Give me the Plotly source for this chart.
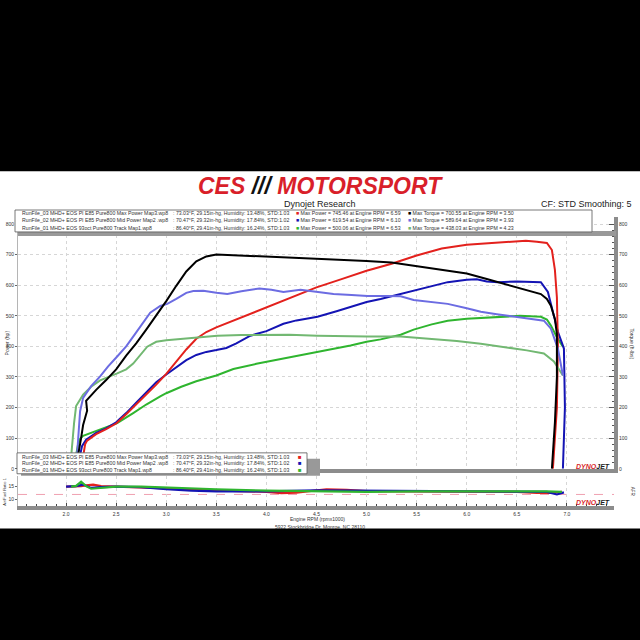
import plotly.graph_objects as go

# ---- run info (legend text) ----
run_names = ["RunFile_03 MHD+ EOS PI E85 Pure800 Max Power Map3.wp8",
             "RunFile_02 MHD+ EOS PI E85 Pure800 Mid Power Map2 .wp8",
             "RunFile_01 MHD+ EOS 93oct Pure800 Track Map1.wp8"]
run_conditions = [": 73.03\u00b0F, 29.15in-hg, Humidity: 13.48%, STD:1.03",
                  ": 70.47\u00b0F, 29.32in-hg, Humidity: 17.84%, STD:1.02",
                  ": 86.40\u00b0F, 29.41in-hg, Humidity: 16.24%, STD:1.03"]
max_power = [745.46, 619.54, 500.06]
max_power_rpm = [6.59, 6.10, 6.53]
max_torque = [700.55, 589.64, 438.03]
max_torque_rpm = [3.50, 3.93, 4.23]

# ---- RunFile_03 ----
rpm_hp_03 = [2.15, 2.18, 2.19, 2.21, 2.24, 2.3, 2.4, 2.5, 2.6, 2.7, 2.8, 2.9, 3.0, 3.1, 3.2, 3.3, 3.4, 3.5,
             3.75, 4.0, 4.25, 4.5, 4.75, 5.0, 5.25, 5.5, 5.75, 6.0, 6.25, 6.4, 6.5, 6.59, 6.7, 6.8, 6.85,
             6.88, 6.9, 6.91, 6.9, 6.88, 6.86]
hp_03 = [0, 55, 80, 92, 100, 113, 130, 148, 178, 210, 242, 275, 310, 350, 390, 425, 447, 462,
         495, 528, 560, 593, 620, 647, 670, 697, 720, 732, 738, 742, 743, 745.5, 742, 738, 715,
         650, 560, 400, 200, 80, 0]
rpm_tq_03 = [2.11, 2.12, 2.15, 2.17, 2.21, 2.2, 2.25, 2.3, 2.4, 2.5, 2.6, 2.7, 2.8, 2.9, 3.0, 3.1, 3.2,
             3.3, 3.4, 3.5, 3.75, 4.0, 4.25, 4.5, 4.75, 5.0, 5.25, 5.5, 5.75, 6.0, 6.2, 6.4, 6.6, 6.74,
             6.8, 6.84, 6.88, 6.9, 6.9, 6.88, 6.85]
tq_03 = [0, 45, 100, 143, 190, 222, 240, 258, 290, 325, 370, 410, 455, 500, 548, 598, 645,
         678, 694, 700.5, 697, 693, 691, 686, 682, 679, 674, 662, 650, 638, 620, 602, 585, 571,
         555, 533, 490, 440, 300, 150, 0]

# ---- RunFile_02 ----
rpm_hp_02 = [2.13, 2.14, 2.16, 2.2, 2.3, 2.4, 2.5, 2.6, 2.7, 2.8, 2.9, 3.0, 3.1, 3.2, 3.3, 3.4, 3.5,
             3.6, 3.7, 3.84, 4.0, 4.17, 4.3, 4.51, 4.7, 4.84, 5.0, 5.14, 5.34, 5.47, 5.6, 5.81, 6.0,
             6.1, 6.2, 6.31, 6.5, 6.74, 6.81, 6.88, 6.91, 6.97, 6.98, 6.96]
hp_02 = [0, 45, 75, 95, 117, 132, 152, 182, 216, 250, 283, 308, 333, 355, 372, 382, 388,
         395, 410, 435, 450, 474, 485, 497, 515, 529, 545, 555, 571, 581, 592, 610, 618,
         619.5, 612, 610, 612, 610, 578, 480, 448, 393, 200, 0]
rpm_tq_02 = [2.1, 2.12, 2.14, 2.17, 2.25, 2.34, 2.42, 2.51, 2.6, 2.67, 2.75, 2.84, 2.94, 3.01, 3.1,
             3.2, 3.27, 3.37, 3.5, 3.61, 3.75, 3.93, 4.05, 4.17, 4.34, 4.5, 4.67, 4.85, 5.01, 5.2,
             5.34, 5.47, 5.65, 5.81, 6.0, 6.14, 6.3, 6.47, 6.6, 6.77, 6.84, 6.91, 6.96]
tq_02 = [0, 80, 188, 232, 270, 302, 335, 367, 400, 432, 470, 510, 532, 539, 555,
         575, 581, 582, 575, 571, 580, 589.6, 585, 578, 585, 578, 571, 568, 565, 565,
         564, 552, 545, 539, 525, 513, 505, 497, 490, 484, 458, 393, 305]

# ---- RunFile_01 ----
rpm_hp_01 = [2.09, 2.1, 2.12, 2.14, 2.17, 2.25, 2.34, 2.51, 2.67, 2.8, 2.94, 3.0, 3.15, 3.3, 3.5, 3.67,
             3.9, 4.17, 4.35, 4.51, 4.7, 4.84, 5.0, 5.14, 5.34, 5.47, 5.65, 5.81, 6.0, 6.14, 6.3,
             6.53, 6.74, 6.8, 6.84, 6.9, 6.96]
hp_01 = [0, 45, 80, 98, 108, 118, 127, 149, 182, 210, 237, 247, 268, 286, 305, 326,
         343, 360, 372, 383, 395, 403, 415, 423, 438, 455, 472, 484, 490, 493, 497,
         500, 497, 488, 468, 430, 399]
rpm_tq_01 = [2.04, 2.06, 2.08, 2.1, 2.13, 2.17, 2.25, 2.34, 2.51, 2.6, 2.67, 2.75, 2.81, 2.9, 3.0,
             3.17, 3.35, 3.51, 3.75, 4.0, 4.23, 4.51, 4.75, 5.01, 5.34, 5.64, 5.9, 6.14, 6.3, 6.47,
             6.6, 6.77, 6.87, 6.96]
tq_01 = [0, 80, 150, 205, 222, 242, 268, 289, 312, 325, 344, 375, 399, 415, 420,
         425, 430, 435, 437, 438, 438, 435, 433, 432, 432, 425, 418, 409, 402, 393,
         387, 377, 351, 305]

# ---- air / fuel ratio ----
rpm_afr_03 = [2.0, 2.1, 2.15, 2.2, 2.27, 2.35, 2.5, 2.75, 3.0, 3.25, 3.5, 3.75, 4.0, 4.15, 4.3, 4.6,
              4.8, 5.0, 5.5, 6.0, 6.5, 6.7, 6.85, 6.95]
afr_03 = [15.0, 15.0, 15.2, 15.5, 15.8, 15.2, 15.0, 14.9, 14.3, 14.0, 13.6, 13.3, 13.0, 12.5, 12.7, 14.0,
          13.8, 13.3, 13.2, 13.0, 13.0, 12.6, 12.6, 13.0]
rpm_afr_02 = [2.0, 2.1, 2.17, 2.25, 2.35, 2.5, 2.75, 3.0, 3.25, 3.5, 3.75, 4.0, 4.5, 5.0, 5.5, 6.0,
              6.5, 6.8, 6.9, 6.97]
afr_02 = [15.0, 15.2, 15.8, 14.5, 14.8, 15.0, 14.8, 14.0, 13.5, 13.2, 13.2, 13.2, 13.6, 13.5, 13.3, 13.1,
          13.1, 13.0, 12.0, 12.8]
rpm_afr_01 = [2.05, 2.1, 2.15, 2.2, 2.25, 2.35, 2.5, 2.75, 3.0, 3.5, 4.0, 4.5, 5.0, 5.5, 6.0, 6.5,
              6.8, 6.95]
afr_01 = [15.0, 15.3, 16.9, 15.2, 14.2, 14.6, 15.0, 15.0, 14.6, 14.0, 13.5, 13.2, 13.0, 13.2, 13.3, 13.4,
          13.2, 13.0]
afr_target = 12.0

power_ticks = [0, 100, 200, 300, 400, 500, 600, 700, 800]
afr_ticks = [10, 15]
rpm_ticks = [2.0, 2.5, 3.0, 3.5, 4.0, 4.5, 5.0, 5.5, 6.0, 6.5, 7.0]

RED = "#e3211d"
BLACK = "#000000"
BLUE = "#1414b4"
LBLUE = "#6c6ce2"
GREEN = "#2fb52f"
LGREEN = "#72b872"
run_colors = [RED, BLUE, GREEN]
GRAY = "#8c8c8c"
FONT = "Liberation Sans, Arial, sans-serif"


def px(x):
    return x / 640


def py(y):
    return 1 - y / 640


fig = go.Figure()

lines = [
    (rpm_tq_01, tq_01, LGREEN, "y3"),
    (rpm_hp_01, hp_01, GREEN, "y"),
    (rpm_tq_02, tq_02, LBLUE, "y3"),
    (rpm_hp_02, hp_02, BLUE, "y"),
    (rpm_tq_03, tq_03, BLACK, "y3"),
    (rpm_hp_03, hp_03, RED, "y"),
]
for xs, ys, c, ax in lines:
    fig.add_trace(go.Scatter(x=xs, y=ys, mode="lines", line=dict(color=c, width=2),
                             xaxis="x", yaxis=ax, hoverinfo="skip"))

for xs, ys, c in [(rpm_afr_03, afr_03, RED), (rpm_afr_02, afr_02, BLUE), (rpm_afr_01, afr_01, GREEN)]:
    fig.add_trace(go.Scatter(x=xs, y=ys, mode="lines", line=dict(color=c, width=2.2),
                             xaxis="x2", yaxis="y2", hoverinfo="skip"))

tiny = dict(family=FONT, size=5, color="#333")
xr = [1.52, 7.47]

shapes = [
    # white sheet on the black page
    dict(type="rect", xref="paper", yref="paper", x0=0, x1=1, y0=py(531), y1=py(172),
         fillcolor="white", line_width=0, layer="below"),
    # target afr line
    dict(type="line", xref="x2 domain", yref="y2", x0=0, x1=1, y0=afr_target, y1=afr_target,
         line=dict(color="#f0a0b0", width=1, dash="dash"), layer="below"),
    # top legend shadow + box
    dict(type="rect", xref="paper", yref="paper", x0=px(18), x1=px(616), y0=py(237), y1=py(232),
         fillcolor="#999999", line_width=0, layer="above"),
    dict(type="rect", xref="paper", yref="paper", x0=px(15), x1=px(592), y0=py(233), y1=py(211),
         fillcolor="white", line=dict(color="#555", width=0.8), layer="above"),
    # bottom legend shadow + box
    dict(type="rect", xref="paper", yref="paper", x0=px(21), x1=px(320), y0=py(478), y1=py(461),
         fillcolor="#999999", line_width=0, layer="above"),
    dict(type="rect", xref="paper", yref="paper", x0=px(17), x1=px(307), y0=py(476), y1=py(455),
         fillcolor="white", line=dict(color="#555", width=0.8), layer="above"),
]

ann = []


def text(x, y, s, size=5, anchor="left", color="#333", angle=0):
    ann.append(dict(x=px(x), y=py(y), xref="paper", yref="paper", text=s, showarrow=False,
                    xanchor=anchor, yanchor="middle", textangle=angle,
                    font=dict(family=FONT, size=size, color=color)))


# logo and header
text(320, 187, "<b><i><span style='color:#d91f2a'>CES </span><span style='color:#111'>///</span>"
     "<span style='color:#d91f2a'> MOTORSPORT</span></i></b>", size=23, anchor="center")
text(320, 205, "Dynojet Research", size=9, anchor="center", color="#222")
text(634, 205, "CF: STD Smoothing: 5", size=9, anchor="right", color="#222")

# top legend
for i, yy in enumerate([214, 221.5, 229]):
    text(20, yy, run_names[i], size=5.2)
    text(171, yy, run_conditions[i], size=5.2)
    pc = run_colors[i]
    tc = [BLACK, LBLUE, LGREEN][i]
    text(294, yy, f"<span style='color:{pc}'>\u25a0</span> Max Power = {max_power[i]:.2f} at Engine RPM = "
                  f"{max_power_rpm[i]:.2f}", size=5.2)
    text(406, yy, f"<span style='color:{tc}'>\u25a0</span> Max Torque = {max_torque[i]:.2f} at Engine RPM = "
                  f"{max_torque_rpm[i]:.2f}", size=5.2)

# bottom legend
for i, yy in enumerate([459, 465.5, 472]):
    text(20, yy, run_names[i], size=5.2)
    text(171, yy, run_conditions[i], size=5.2)
    text(296, yy, "\u25a0", size=6, color=run_colors[i])

# axis titles and footer
text(7, 345, "Power (hp)", size=5, anchor="center", angle=-90)
text(632, 345, "Torque (ft-lbs)", size=5, anchor="center", angle=90)
text(5, 494, "Air/Fuel Ratio 1", size=4, anchor="center", angle=-90)
text(632, 494, "AFR", size=4.5, anchor="center", angle=90)
text(317, 521, "Engine RPM (rpmx1000)", size=5, anchor="center")
text(320, 529, "5922 Stockbridge Dr. Monroe, NC 28110", size=5, anchor="center")
for yy in [469, 505]:
    text(612, yy, "<b><i><span style='color:#d91f2a'>DYNO</span><span style='color:#222'>JET</span></i></b>",
         size=7, anchor="right")

grid = dict(showgrid=True, gridcolor="#d6d6d6", griddash="dot", gridwidth=1, zeroline=False)

fig.update_layout(
    width=640, height=640, autosize=False,
    margin=dict(l=0, r=0, t=0, b=0),
    paper_bgcolor="black", plot_bgcolor="white",
    showlegend=False,
    shapes=shapes, annotations=ann,
    xaxis=dict(domain=[px(18), px(614)], range=xr, anchor="y", tickvals=rpm_ticks,
               showticklabels=False, showline=True, linecolor=GRAY, linewidth=4, ticks="", **grid),
    yaxis=dict(domain=[py(471), py(218)], range=[0, 823], anchor="x", tickvals=power_ticks,
               ticks="outside", ticklen=2, tickcolor="#666", tickfont=tiny,
               showline=True, linecolor="#b5b5b5", linewidth=1, **grid),
    yaxis3=dict(overlaying="y", side="right", anchor="x", range=[0, 823], tickvals=power_ticks,
                ticks="inside", ticklen=5, tickcolor="#555", tickfont=tiny,
                minor=dict(ticks="inside", ticklen=2, dtick=20, tickcolor="#555", tick0=0),
                showline=True, linecolor=GRAY, linewidth=4, showgrid=False, zeroline=False),
    xaxis2=dict(domain=[px(18), px(614)], range=xr, anchor="y2", tickvals=rpm_ticks,
                tickformat=".1f", ticks="inside", ticklen=3, tickcolor="#444", tickfont=tiny,
                minor=dict(ticks="inside", ticklen=2, dtick=0.1, tick0=0, tickcolor="#444"),
                showline=True, linecolor=GRAY, linewidth=4, **grid),
    yaxis2=dict(domain=[py(508), py(478)], range=[7.7, 19.2], anchor="x2", tickvals=afr_ticks,
                ticks="outside", ticklen=2, tickcolor="#666", tickfont=tiny,
                showline=True, linecolor="#b5b5b5", linewidth=1, showgrid=False, zeroline=False),
    yaxis4=dict(overlaying="y2", side="right", anchor="x2", range=[7.7, 19.2], tickvals=afr_ticks,
                ticks="inside", ticklen=4, tickcolor="#555", tickfont=tiny,
                minor=dict(ticks="inside", ticklen=2, dtick=1, tickcolor="#555"),
                showline=True, linecolor=GRAY, linewidth=4, showgrid=False, zeroline=False),
)

fig.write_html("out.html", config={"displayModeBar": False},
               post_script="document.body.style.margin='0px';")
